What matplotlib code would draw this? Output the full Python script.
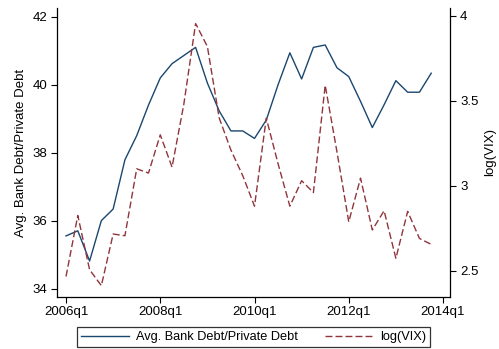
import numpy as np
import matplotlib
matplotlib.use("Agg")
import matplotlib.pyplot as plt
from matplotlib.lines import Line2D

plt.rcParams["font.family"] = ["Liberation Sans", "DejaVu Sans"]

# quarterly series, 2006q1 .. 2013q4
START_YEAR = 2006
bank_share = [35.55, 35.70, 34.81, 36.00, 36.34, 37.79, 38.50, 39.40,
              40.20, 40.62, 40.86, 41.10, 40.05, 39.23, 38.64, 38.64,
              38.42, 38.96, 40.00, 40.94, 40.17, 41.10, 41.17, 40.50,
              40.24, 39.51, 38.74, 39.41, 40.12, 39.78, 39.78, 40.34]
log_vix = [2.466, 2.825, 2.506, 2.412, 2.716, 2.706, 3.100, 3.075,
           3.300, 3.110, 3.480, 3.955, 3.820, 3.400, 3.210, 3.060,
           2.880, 3.398, 3.130, 2.880, 3.030, 2.960, 3.592, 3.200,
           2.788, 3.045, 2.740, 2.853, 2.573, 2.849, 2.690, 2.655]
left_ticks = [34, 36, 38, 40, 42]
right_ticks = [2.5, 3, 3.5, 4]
xtick_years = [2006, 2008, 2010, 2012, 2014]

BLUE = "#1a476f"
RED = "#90353b"
FS = 9.5

W, H = 499, 349
fig = plt.figure(figsize=(W / 100, H / 100), dpi=100)
L, R, T, B = 57.3, 450.3, 8.3, 296.7
ax = fig.add_axes([L / W, 1 - B / H, (R - L) / W, (B - T) / H])
ax2 = ax.twinx()

q = np.arange(len(bank_share))
ax.plot(q, bank_share, color=BLUE, lw=1.0)
ax2.plot(q, log_vix, color=RED, lw=1.0, dashes=(5, 2.2))

ax.set_xlim(-0.74, 32.62)
ax.set_ylim(33.76, 42.25)
ax2.set_ylim(2.347, 4.045)

xt = [(y - START_YEAR) * 4 for y in xtick_years]
ax.set_xticks(xt)
ax.set_xticklabels(["%dq1" % y for y in xtick_years], fontsize=FS)
ax.set_yticks(left_ticks)
ax.set_yticklabels([str(v) for v in left_ticks], fontsize=FS)
ax2.set_yticks(right_ticks)
ax2.set_yticklabels(["%g" % v for v in right_ticks], fontsize=FS)

for a in (ax, ax2):
    a.spines["top"].set_visible(False)
    for s in a.spines.values():
        s.set_linewidth(0.9)
ax.spines["right"].set_visible(False)
ax2.spines["left"].set_visible(False)
ax2.spines["bottom"].set_visible(False)
ax.tick_params(axis="both", direction="out", length=4, width=0.8, pad=3, colors="black")
ax2.tick_params(axis="y", direction="out", length=4, width=0.8, pad=3, colors="black")

ax.set_ylabel("Avg. Bank Debt/Private Debt", fontsize=FS, labelpad=4)
ax2.set_ylabel("log(VIX)", fontsize=FS, labelpad=4)

handles = [Line2D([], [], color=BLUE, lw=1.0),
           Line2D([], [], color=RED, lw=1.0, dashes=(5, 2.2))]
leg = fig.legend(handles, ["Avg. Bank Debt/Private Debt", "log(VIX)"],
                 loc="center", bbox_to_anchor=(253.5 / W, 1 - 337.0 / H),
                 ncol=2, fontsize=9.2, frameon=True, fancybox=False,
                 edgecolor="black", handlelength=3.75, handletextpad=0.55,
                 columnspacing=2.1, borderpad=0.35, borderaxespad=0)
leg.get_frame().set_linewidth(0.9)

fig.savefig("out.png", dpi=100, facecolor="white")
